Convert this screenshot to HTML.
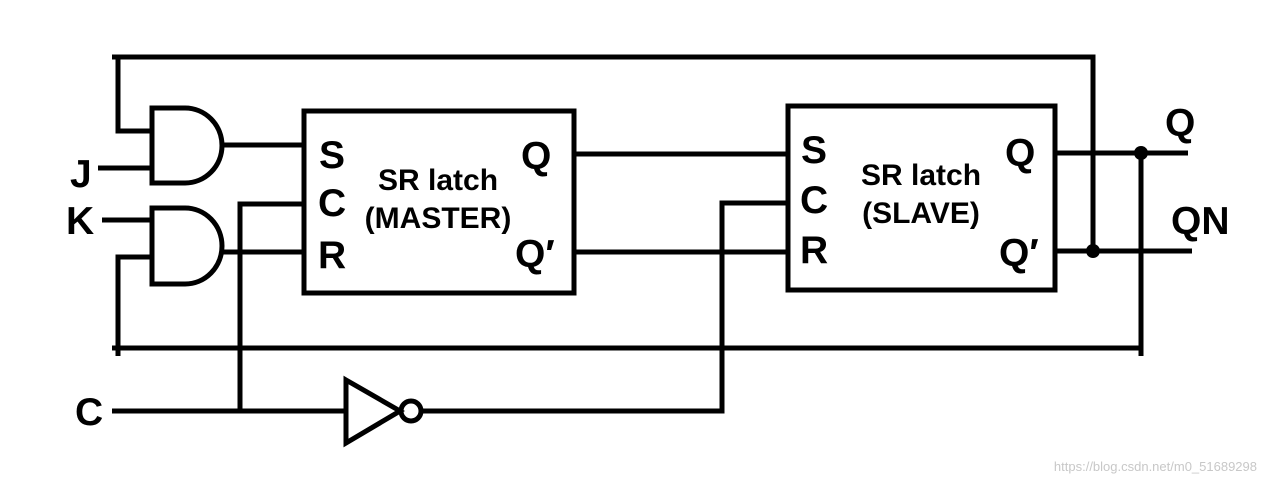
<!DOCTYPE html>
<html><head><style>body{margin:0;background:#fff}svg{display:block}</style></head>
<body>
<svg width="1266" height="484" viewBox="0 0 1266 484" xmlns="http://www.w3.org/2000/svg">
<g stroke="#000" stroke-width="5" fill="none" stroke-linejoin="miter">
<polyline points="112,57 1093,57 1093,252"/>
<polyline points="118,57 118,131 152,131"/>
<line x1="98" y1="168" x2="152" y2="168"/>
<line x1="102" y1="220" x2="152" y2="220"/>
<polyline points="118,356 118,257 152,257"/>
<path d="M152,108 L185,108 A37,37.5 0 0 1 185,183 L152,183 Z"/>
<path d="M152,208 L185,208 A37,38 0 0 1 185,284 L152,284 Z"/>
<line x1="222" y1="145" x2="304" y2="145"/>
<line x1="222" y1="252" x2="304" y2="252"/>
<rect x="304" y="111" width="270" height="182"/>
<polyline points="304,204 240,204 240,411"/>
<line x1="112" y1="411" x2="346" y2="411"/>
<path d="M346,380 L400,411 L346,443 Z"/>
<circle cx="411" cy="411" r="10"/>
<polyline points="421,411 722,411 722,203 788,203"/>
<line x1="574" y1="154" x2="788" y2="154"/>
<line x1="574" y1="252" x2="788" y2="252"/>
<rect x="788" y="106" width="267" height="184"/>
<line x1="1055" y1="153" x2="1188" y2="153"/>
<line x1="1055" y1="251" x2="1192" y2="251"/>
<polyline points="1141,153 1141,356"/>
<line x1="112" y1="348" x2="1141" y2="348"/>
</g>
<circle cx="1141" cy="153" r="7"/>
<circle cx="1093" cy="251" r="7"/>
<g font-family="Liberation Sans, Arial, sans-serif" font-weight="bold" fill="#000">
<text x="319" y="168" font-size="39">S</text>
<text x="318" y="216" font-size="39">C</text>
<text x="318" y="268" font-size="39">R</text>
<text x="438" y="190" font-size="30" text-anchor="middle">SR latch</text>
<text x="438" y="228" font-size="30" text-anchor="middle">(MASTER)</text>
<text x="521" y="169" font-size="39">Q</text>
<text x="515" y="267" font-size="39">Q′</text>
<text x="801" y="163" font-size="39">S</text>
<text x="800" y="213" font-size="39">C</text>
<text x="800" y="263" font-size="39">R</text>
<text x="921" y="185" font-size="30" text-anchor="middle">SR latch</text>
<text x="921" y="223" font-size="30" text-anchor="middle">(SLAVE)</text>
<text x="1005" y="166" font-size="39">Q</text>
<text x="999" y="266" font-size="39">Q′</text>
<text x="1165" y="136" font-size="39">Q</text>
<text x="1171" y="234" font-size="39">QN</text>
<text x="70" y="187" font-size="39">J</text>
<text x="66" y="234" font-size="39">K</text>
<text x="75" y="425" font-size="39">C</text>
</g>
<text x="1257" y="471" font-family="Liberation Sans, Arial, sans-serif" font-size="13" fill="#c8c8c8" text-anchor="end">https://blog.csdn.net/m0_51689298</text>
</svg>
</body></html>
